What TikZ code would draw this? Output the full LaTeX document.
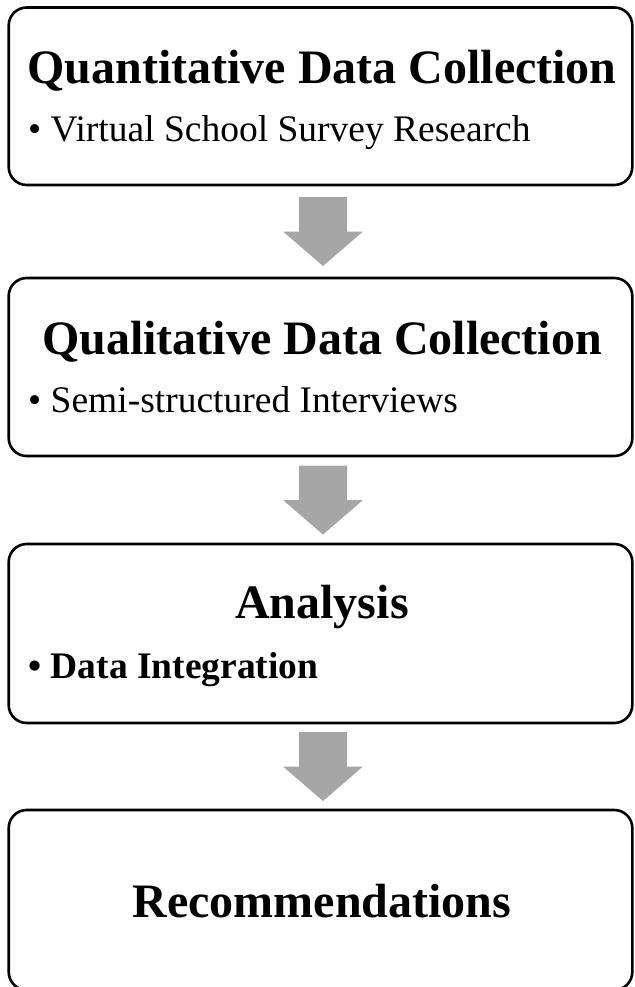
\documentclass[tikz,border=0pt]{standalone}
\usepackage{fontspec}
\setmainfont{Liberation Serif}
\usetikzlibrary{calc}
\definecolor{arrowgray}{HTML}{A6A6A6}
\begin{document}
\begin{tikzpicture}[x=1pt, y=1pt, line join=round,
    stage/.style={draw, line width=2.6pt, rounded corners=18pt, minimum width=623.6pt, inner sep=0pt, outer sep=0pt},
    heading/.style={anchor=base, inner sep=0pt, font=\fontsize{48}{48}\selectfont\bfseries},
    item/.style={anchor=base west, inner sep=0pt, font=\fontsize{37.5}{37.5}\selectfont}]
  \useasboundingbox (0,0) rectangle (634,-987);
  \clip (0,0) rectangle (634,-987);
  \node[stage, minimum height=177.5pt] (quant) at (320.5,-96.25) {};
  \node[stage, minimum height=178pt] (qual) at (320.5,-367) {};
  \node[stage, minimum height=179pt] (anal) at (320.5,-633.5) {};
  \node[stage, minimum height=180pt] (recs) at (320.5,-900) {};
  \node[heading] (quanttitle) at ($(quant.north)+(1.5,-76)$) {Quantitative Data Collection};
  \node[item] (quantitem) at ($(quant.north west)+(19.3,-134.5)$) {\textbullet{} Virtual School Survey Research};
  \node[heading] (qualtitle) at ($(qual.north)+(1.5,-76)$) {Qualitative Data Collection};
  \node[item] (qualitem) at ($(qual.north west)+(19.3,-134.5)$) {\textbullet{} Semi-structured Interviews};
  \node[heading] (analtitle) at ($(anal.north)+(1.5,-74)$) {Analysis};
  \node[item, font=\fontsize{37.5}{37.5}\selectfont\bfseries] (analitem) at ($(anal.north west)+(19.3,-134)$) {\textbullet{} Data Integration};
  \node[heading] (recstitle) at ($(recs.north)+(1.5,-107)$) {Recommendations};
  \foreach \a/\b in {quant/qual, qual/anal, anal/recs}
    \fill[arrowgray, shift={($(\a.south)!0.5!(\b.north)+(2.5,0)$)}]
      (-24,34.5) -- (24,34.5) -- (24,0) -- (40,0) -- (0,-34.5) -- (-40,0) -- (-24,0) -- cycle;
\end{tikzpicture}
\end{document}
